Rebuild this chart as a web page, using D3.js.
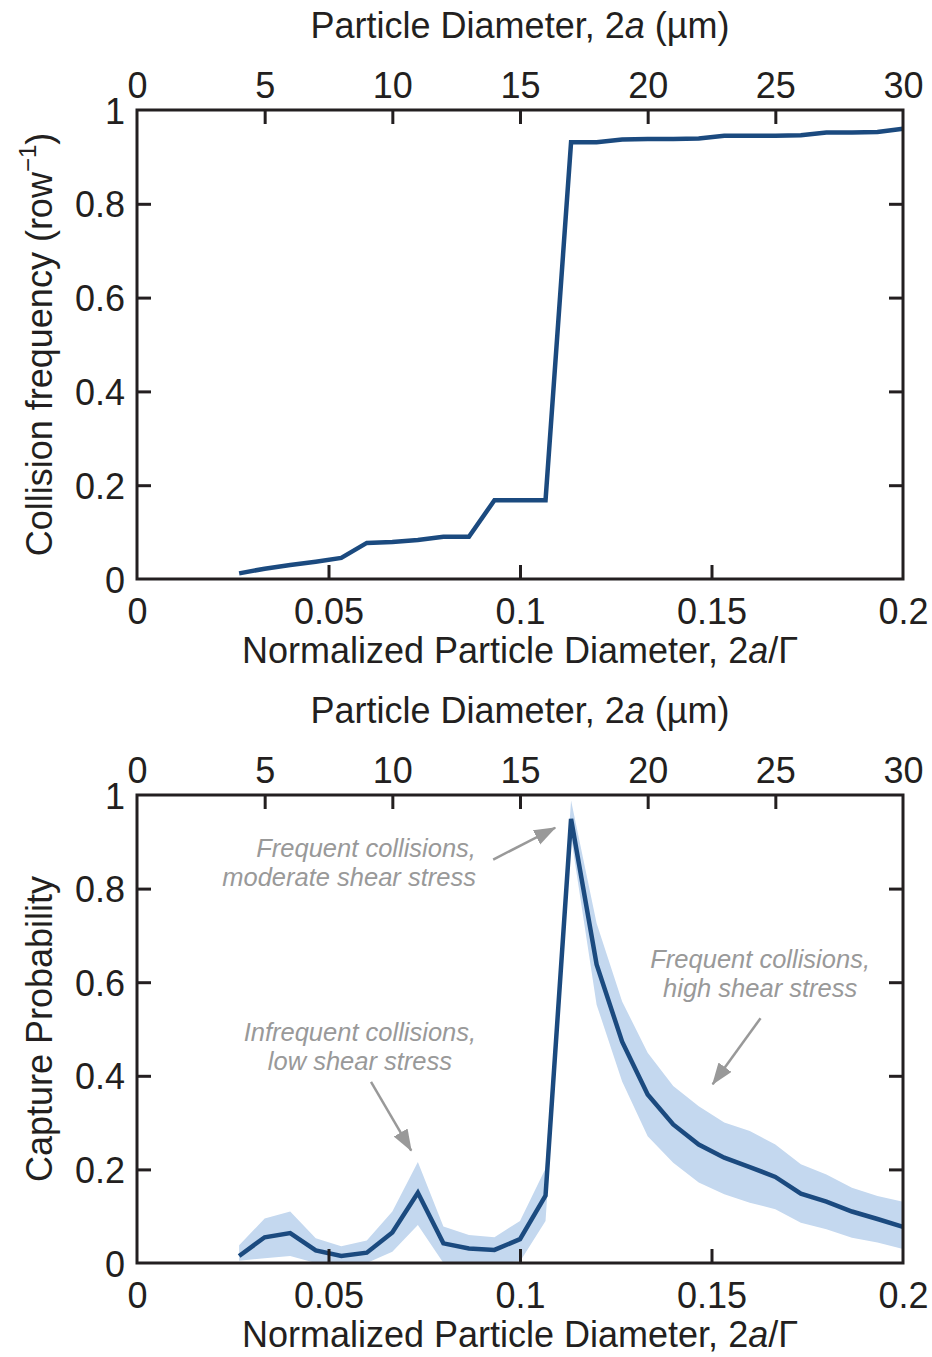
<!DOCTYPE html>
<html>
<head>
<meta charset="utf-8">
<script src="https://cdn.jsdelivr.net/npm/d3@7"></script>
<style>
  html, body { margin: 0; padding: 0; background: #fff; }
  svg { display: block; font-family: "Liberation Sans", Arial, Helvetica, sans-serif; }
</style>
</head>
<body>
<script>
// ---------- Data ----------
const diameterUm = [4,5,6,7,8,9,10,11,12,13,14,15,16,17,18,19,20,21,22,23,24,25,26,27,28,29,30];

const collisionFreq = [0.012,0.022,0.030,0.037,0.045,0.077,0.079,0.083,0.090,0.090,0.168,0.168,0.168,
  0.931,0.931,0.937,0.938,0.938,0.939,0.945,0.945,0.945,0.946,0.952,0.952,0.953,0.960];

const captureProb = [0.015,0.055,0.064,0.027,0.015,0.022,0.065,0.150,0.042,0.031,0.028,0.051,0.144,
  0.949,0.638,0.473,0.360,0.296,0.253,0.225,0.205,0.184,0.148,0.131,0.110,0.094,0.077];

const captureUpper = [0.038,0.095,0.110,0.053,0.036,0.048,0.110,0.216,0.078,0.060,0.055,0.090,0.202,
  0.988,0.726,0.559,0.449,0.378,0.335,0.300,0.282,0.253,0.211,0.189,0.161,0.143,0.131];

const captureLower = [0.005,0.010,0.015,0.000,0.000,0.000,0.024,0.081,0.000,0.000,0.000,0.003,0.090,
  0.910,0.552,0.388,0.271,0.214,0.172,0.147,0.129,0.115,0.086,0.072,0.054,0.044,0.030];

const normTicks = [0, 0.05, 0.1, 0.15, 0.2];
const normTickLabels = ["0", "0.05", "0.1", "0.15", "0.2"];
const umTicks = [0, 5, 10, 15, 20, 25, 30];
const yTicks = [0, 0.2, 0.4, 0.6, 0.8, 1];
const yTickLabels = ["0", "0.2", "0.4", "0.6", "0.8", "1"];

// annotations in data coordinates (normalized diameter, probability)
const annotationLines = [
  ["Frequent collisions,", "moderate shear stress"],
  ["Frequent collisions,", "high shear stress"],
  ["Infrequent collisions,", "low shear stress"]
];
const annotationPos = [[0.0885, 0.8675], [0.1627, 0.630], [0.0582, 0.474]];
const annotationAnchor = ["end", "middle", "middle"];
const arrowFrom = [[0.0930, 0.862], [0.1628, 0.523], [0.0611, 0.387]];
const arrowTo   = [[0.1092, 0.930], [0.1503, 0.382], [0.0716, 0.240]];

// ---------- Layout ----------
const W = 932, H = 1357;
const left = 137, right = 903;
const ink = "#231f20";
const lineColor = "#1b4a7f";
const bandColor = "#c4d8ef";
const annoColor = "#999999";
const fs = 36;

const svg = d3.select("body").append("svg").attr("width", W).attr("height", H);

const defs = svg.append("defs");
defs.append("marker")
  .attr("id", "arrowhead")
  .attr("markerUnits", "userSpaceOnUse")
  .attr("markerWidth", 24).attr("markerHeight", 18)
  .attr("refX", 21).attr("refY", 8)
  .attr("orient", "auto")
  .append("path").attr("d", "M0,0 L22,8 L0,16 Z").attr("fill", annoColor);

const xNorm = d3.scaleLinear().domain([0, 0.2]).range([left, right]);
const xUm = d3.scaleLinear().domain([0, 30]).range([left, right]);

function drawPanel(top, bottom, yTitle, drawData) {
  const y = d3.scaleLinear().domain([0, 1]).range([bottom, top]);
  const g = svg.append("g");

  drawData(g, y);

  const tickLen = 14;
  const styleAxis = (sel) => {
    sel.select(".domain").remove();
    sel.selectAll(".tick line").attr("stroke", ink).attr("stroke-width", 3);
    sel.selectAll(".tick text").attr("fill", ink).attr("font-size", fs)
      .attr("font-family", '"Liberation Sans", Arial, sans-serif');
  };

  // bottom axis (normalized), ticks inward
  const gb = g.append("g").attr("transform", `translate(0,${bottom})`)
    .call(d3.axisBottom(xNorm).tickValues(normTicks).tickSize(-tickLen)
      .tickFormat((d, i) => normTickLabels[i]).tickPadding(0));
  styleAxis(gb);
  gb.selectAll(".tick text").attr("y", 45).attr("dy", 0);
  gb.selectAll(".tick").filter((d, i) => i === 0 || i === normTicks.length - 1).select("line").remove();

  // top axis (µm), ticks inward
  const gt = g.append("g").attr("transform", `translate(0,${top})`)
    .call(d3.axisTop(xUm).tickValues(umTicks).tickSize(-tickLen).tickPadding(0));
  styleAxis(gt);
  gt.selectAll(".tick text").attr("y", -12).attr("dy", 0);
  gt.selectAll(".tick").filter((d, i) => i === 0 || i === umTicks.length - 1).select("line").remove();

  // left axis
  const gl = g.append("g").attr("transform", `translate(${left},0)`)
    .call(d3.axisLeft(y).tickValues(yTicks).tickSize(-tickLen)
      .tickFormat((d, i) => yTickLabels[i]).tickPadding(0));
  styleAxis(gl);
  gl.selectAll(".tick text").attr("x", -12).attr("dy", 13);
  gl.selectAll(".tick").filter((d, i) => i === 0 || i === yTicks.length - 1).select("line").remove();

  // right axis (ticks only)
  const gr = g.append("g").attr("transform", `translate(${right},0)`)
    .call(d3.axisRight(y).tickValues(yTicks).tickSize(-tickLen).tickFormat(""));
  styleAxis(gr);
  gr.selectAll(".tick").filter((d, i) => i === 0 || i === yTicks.length - 1).select("line").remove();

  // frame
  g.append("rect").attr("x", left).attr("y", top)
    .attr("width", right - left).attr("height", bottom - top)
    .attr("fill", "none").attr("stroke", ink).attr("stroke-width", 3);

  // axis titles
  const topTitle = g.append("text").attr("x", (left + right) / 2).attr("y", top - 72)
    .attr("text-anchor", "middle").attr("font-size", fs).attr("fill", ink);
  topTitle.append("tspan").text("Particle Diameter, 2");
  topTitle.append("tspan").attr("font-style", "italic").text("a");
  topTitle.append("tspan").text(" (\u00b5m)");

  const botTitle = g.append("text").attr("x", (left + right) / 2).attr("y", bottom + 84)
    .attr("text-anchor", "middle").attr("font-size", fs).attr("fill", ink);
  botTitle.append("tspan").text("Normalized Particle Diameter, 2");
  botTitle.append("tspan").attr("font-style", "italic").text("a");
  botTitle.append("tspan").text("/\u0393");

  const yt = g.append("text")
    .attr("transform", `translate(52,${(top + bottom) / 2}) rotate(-90)`)
    .attr("text-anchor", "middle").attr("font-size", fs).attr("fill", ink);
  yTitle(yt);
  return y;
}

// ---------- Top panel ----------
drawPanel(110, 579, (t) => {
  t.append("tspan").text("Collision frequency (row");
  t.append("tspan").attr("font-size", 24).attr("dy", -16).text("\u22121");
  t.append("tspan").attr("dy", 16).text(")");
}, (g, y) => {
  const line = d3.line().x((d, i) => xUm(diameterUm[i])).y(d => y(d));
  g.append("path").datum(collisionFreq).attr("d", line)
    .attr("fill", "none").attr("stroke", lineColor).attr("stroke-width", 4.5);
});

// ---------- Bottom panel ----------
drawPanel(795, 1263, (t) => {
  t.text("Capture Probability");
}, (g, y) => {
  const area = d3.area().x((d, i) => xUm(diameterUm[i]))
    .y0((d, i) => y(captureLower[i])).y1((d, i) => y(captureUpper[i]));
  g.append("path").datum(captureProb).attr("d", area).attr("fill", bandColor).attr("stroke", "none");
  const line = d3.line().x((d, i) => xUm(diameterUm[i])).y(d => y(d));
  g.append("path").datum(captureProb).attr("d", line)
    .attr("fill", "none").attr("stroke", lineColor).attr("stroke-width", 4.5);

  // annotations
  annotationLines.forEach((lines, k) => {
    const t = g.append("text")
      .attr("x", xNorm(annotationPos[k][0])).attr("y", y(annotationPos[k][1]))
      .attr("text-anchor", annotationAnchor[k]).attr("font-size", 25.5)
      .attr("font-style", "italic").attr("fill", annoColor);
    lines.forEach((s, j) => {
      t.append("tspan").attr("x", xNorm(annotationPos[k][0])).attr("dy", j === 0 ? 0 : 29).text(s);
    });
    g.append("line")
      .attr("x1", xNorm(arrowFrom[k][0])).attr("y1", y(arrowFrom[k][1]))
      .attr("x2", xNorm(arrowTo[k][0])).attr("y2", y(arrowTo[k][1]))
      .attr("stroke", annoColor).attr("stroke-width", 2.5)
      .attr("marker-end", "url(#arrowhead)");
  });
});
</script>
</body>
</html>
